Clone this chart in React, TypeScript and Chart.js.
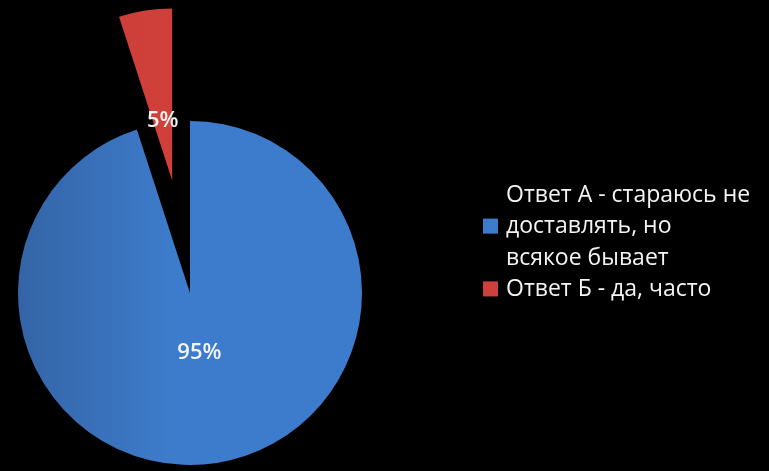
import React, { useEffect, useRef } from 'react';
import { Chart, registerables } from 'chart.js';

Chart.register(...registerables);

// ---- data ----
const categories: string[][] = [
  ['Ответ А - стараюсь не', 'доставлять, но', 'всякое бывает'],
  ['Ответ Б - да, часто'],
];
const values: number[] = [95, 5];
const sliceColors: string[] = ['#3d7ccc', '#d0403a'];
const sliceShade: string[] = ['#3464a6', '#c03a35'];
const explode: number[] = [0, 456];

const FONT = '"Open Sans", "Noto Sans", sans-serif';

export default function App() {
  const ref = useRef<HTMLCanvasElement>(null);

  useEffect(() => {
    const canvas = ref.current!;

    // keep exploded slices at the pie's radius and true angle
    const explodeFix = {
      id: 'explodeFix',
      afterDatasetUpdate(chart: any, args: any) {
        const meta = chart.getDatasetMeta(args.index);
        meta.data.forEach((arc: any, i: number) => {
          const off = explode[i] || 0;
          if (!off) return;
          const fix = 1 - Math.sin(Math.min(Math.PI, arc.circumference));
          const radOff = (off / 4) * fix;
          const R = arc.outerRadius;
          arc.outerRadius = R - radOff;
          const extra = radOff / (Math.PI * R);
          arc.startAngle -= extra / 2;
          arc.endAngle += extra / 2;
        });
      },
    };

    const percentLabels = {
      id: 'percentLabels',
      afterDatasetsDraw(chart: any) {
        const ctx = chart.ctx;
        const meta = chart.getDatasetMeta(0);
        const total = values.reduce((a, b) => a + b, 0);
        const r = meta.controller.outerRadius;
        ctx.save();
        ctx.fillStyle = '#f4f4f4';
        ctx.font = `600 22px ${FONT}`;
        ctx.textAlign = 'center';
        ctx.textBaseline = 'middle';
        meta.data.forEach((arc: any, i: number) => {
          const mid = (arc.startAngle + arc.endAngle) / 2;
          const shift = (explode[i] || 0) / 4;
          const cx = arc.x + Math.cos(mid) * shift;
          const cy = arc.y + Math.sin(mid) * shift;
          const d = r * 0.35;
          ctx.fillText(
            Math.round((values[i] / total) * 100) + '%',
            cx + Math.cos(mid) * d,
            cy + Math.sin(mid) * d
          );
        });
        ctx.restore();
      },
    };

    const sideLegend = {
      id: 'sideLegend',
      afterDraw(chart: any) {
        const ctx = chart.ctx;
        const boxX = 483;
        const boxSize = 15;
        const textX = 506;
        const lineH = 31.4;
        let baseline = 201.7;
        ctx.save();
        ctx.font = `23px ${FONT}`;
        ctx.textAlign = 'left';
        ctx.textBaseline = 'alphabetic';
        categories.forEach((lines, i) => {
          const midLine = Math.floor((lines.length - 1) / 2);
          const boxCenter = baseline + midLine * lineH - 7;
          ctx.fillStyle = sliceColors[i];
          ctx.fillRect(boxX, boxCenter - boxSize / 2, boxSize, boxSize);
          ctx.fillStyle = '#f4f4f4';
          lines.forEach((ln) => {
            ctx.fillText(ln, textX, baseline);
            baseline += lineH;
          });
        });
        ctx.restore();
      },
    };

    const chart = new Chart(canvas, {
      type: 'pie',
      data: {
        labels: categories,
        datasets: [
          {
            data: values,
            radius: 172,
            cutout: '0%',
            offset: explode,
            borderWidth: 0,
            backgroundColor: (c: any) => {
              const i = c.dataIndex;
              if (i === undefined || i === null) return sliceColors[0];
              const area = c.chart.chartArea;
              if (!area) return sliceColors[i];
              const cx = (area.left + area.right) / 2;
              const g = c.chart.ctx.createLinearGradient(cx - 172, 0, cx + 172, 0);
              g.addColorStop(0, sliceShade[i]);
              g.addColorStop(0.45, sliceColors[i]);
              g.addColorStop(1, sliceColors[i]);
              return g;
            },
          } as any,
        ],
      },
      options: {
        animation: false,
        responsive: true,
        maintainAspectRatio: false,
        layout: { padding: { left: 0, right: 389, top: 115, bottom: 0 } },
        plugins: {
          legend: { display: false },
          tooltip: { enabled: false },
        },
      },
      plugins: [explodeFix, percentLabels, sideLegend],
    });

    return () => chart.destroy();
  }, []);

  return (
    <div
      style={{
        position: 'fixed',
        left: 0,
        top: 0,
        width: 769,
        height: 471,
        background: '#000',
      }}
    >
      <canvas ref={ref} />
    </div>
  );
}
